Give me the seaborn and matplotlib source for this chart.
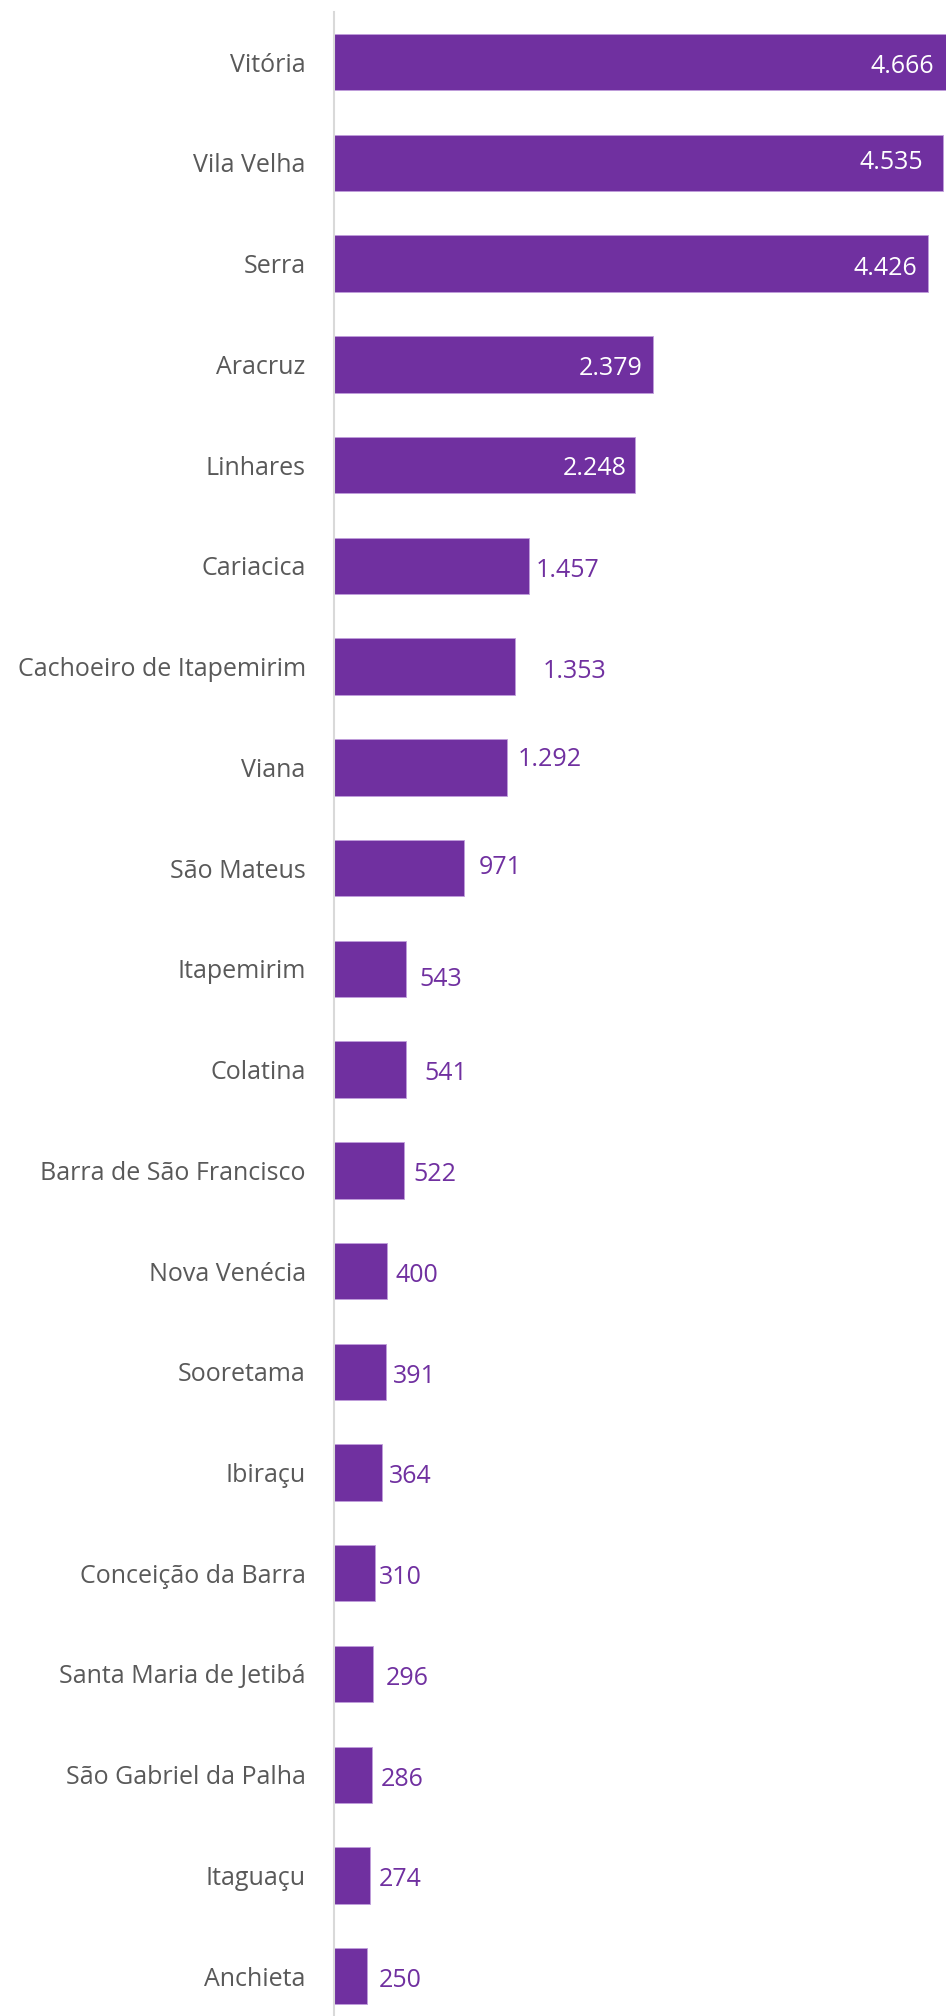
import matplotlib.pyplot as plt
import seaborn as sns
import pandas as pd

# dados
cidades = ["Vitória", "Vila Velha", "Serra", "Aracruz", "Linhares", "Cariacica",
           "Cachoeiro de Itapemirim", "Viana", "São Mateus", "Itapemirim", "Colatina",
           "Barra de São Francisco", "Nova Venécia", "Sooretama", "Ibiraçu",
           "Conceição da Barra", "Santa Maria de Jetibá", "São Gabriel da Palha",
           "Itaguaçu", "Anchieta"]
valores = [4666, 4535, 4426, 2379, 2248, 1457, 1353, 1292, 971, 543, 541,
           522, 400, 391, 364, 310, 296, 286, 274, 250]

# ajuste manual dos rotulos (pixels), como no original do excel
# gap: distancia do fim da barra; desce: deslocamento vertical (positivo = para baixo)
gap_px = [13, 21, 12, 11, 10, 8, 29, 12, 16, 14, 20, 11, 10, 8, 8, 5, 14, 10, 10, 13]
desce_px = [2, -3, 2, 2, 1, 2, 2, -10, -3, 8, 2, 2, 2, 2, 2, 2, 2, 2, 2, 2]

roxo = '#7030A0'
cinza = '#595959'

df = pd.DataFrame({'cidade': cidades, 'valor': valores})

sns.set_style('white')
plt.rcParams['font.family'] = ['Open Sans', 'DejaVu Sans']

fig = plt.figure(figsize=(9.46, 20.16), dpi=100, facecolor='white')
ax = fig.add_axes([333.5 / 946, 0, 612.5 / 946, 2003.7 / 2016])

sns.barplot(data=df, x='valor', y='cidade', orient='h', color=roxo,
            width=0.56, saturation=1, ax=ax, edgecolor='#c09ddb', linewidth=0.6)

xmax = 4560
ax.set_xlim(0, xmax)
ax.set_ylim(19.395, -0.495)

for s in ['top', 'right', 'bottom']:
    ax.spines[s].set_visible(False)
ax.spines['left'].set_color('#d9d9d9')
ax.spines['left'].set_linewidth(1.5)

ax.set_xticks([])
ax.set_xlabel('')
ax.set_ylabel('')
ax.tick_params(axis='y', length=0, pad=20, labelsize=18, labelcolor=cinza)

for i, v in enumerate(valores):
    txt = f"{v:,}".replace(',', '.')
    dy = -desce_px[i] - 2.4
    if v > 2000:
        ax.annotate(txt, xy=(min(v, xmax), i), xytext=(-gap_px[i] + 1, dy),
                    textcoords='offset pixels', ha='right', va='center',
                    color='white', fontsize=18)
    else:
        ax.annotate(txt, xy=(v, i), xytext=(gap_px[i] - 1.5, dy),
                    textcoords='offset pixels', ha='left', va='center',
                    color=roxo, fontsize=18)

fig.savefig('out.png', dpi=100, facecolor='white')
